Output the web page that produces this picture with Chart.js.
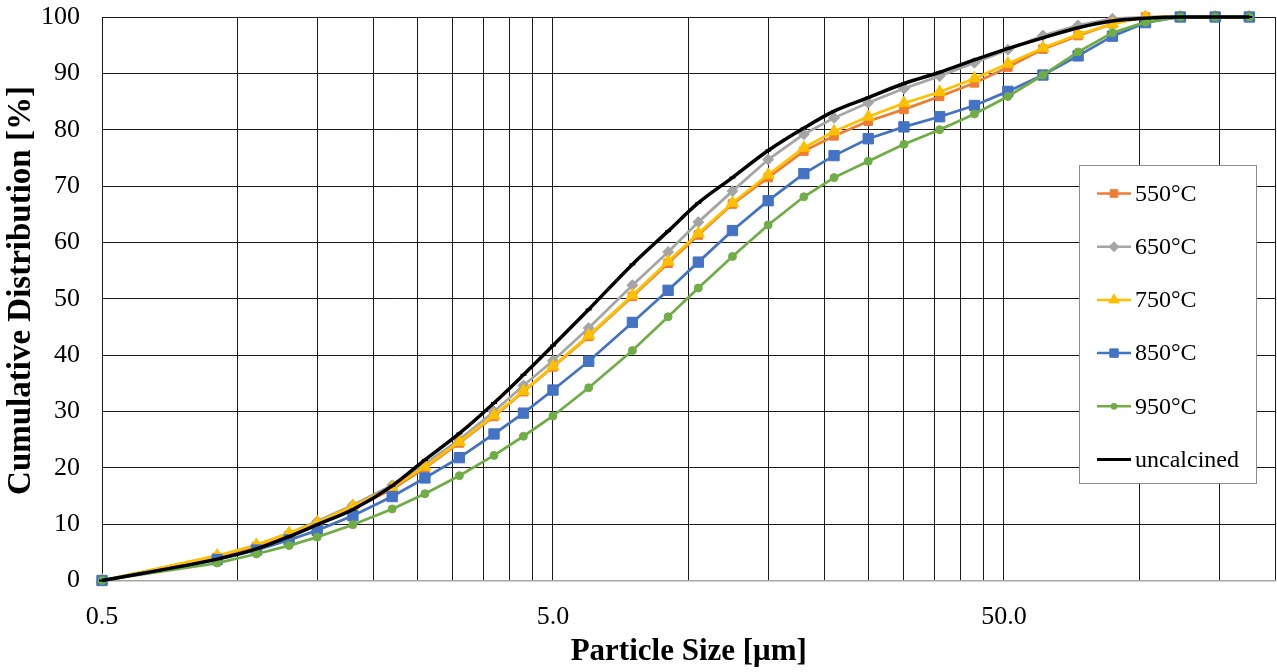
<!DOCTYPE html>
<html>
<head>
<meta charset="utf-8">
<script src="https://cdn.jsdelivr.net/npm/chart.js@4.4.1/dist/chart.umd.min.js"></script>
<style>
  html, body { margin: 0; padding: 0; background: #fff; overflow: hidden; }
  canvas { display: block; }
</style>
</head>
<body>
<canvas id="chart" width="1277" height="672"></canvas>
<script>
// particle size classes [µm]
const sizes = [0.5, 0.9, 1.1, 1.3, 1.5, 1.8, 2.2, 2.6, 3.1, 3.7, 4.3, 5.0, 6.0, 7.5, 9.0, 10.5,
  12.5, 15, 18, 21, 25, 30, 36, 43, 51, 61, 73, 87, 103, 123, 147, 175];

// cumulative distribution [%]
const q550 = [0, 4.1, 6.0, 8.0, 10.0, 12.8, 16.2, 20.0, 24.4, 29.1, 33.5, 37.9, 43.3, 50.4, 56.3, 61.3,
  66.8, 71.5, 76.2, 78.9, 81.5, 83.6, 85.9, 88.3, 91.1, 94.3, 96.7, 98.8, 100, 100, 100, 100];
const q650 = [0, 4.3, 6.3, 8.4, 10.5, 13.4, 16.9, 20.7, 25.0, 30.0, 34.6, 39.0, 44.8, 52.4, 58.3, 63.6,
  69.1, 74.7, 79.2, 82.1, 84.8, 87.3, 89.5, 91.9, 94.2, 96.7, 98.5, 99.7, 100, 100, 100, 100];
const q750 = [0, 4.4, 6.3, 8.4, 10.3, 13.2, 16.5, 20.2, 24.6, 29.3, 33.6, 38.0, 43.5, 50.6, 56.6, 61.6,
  67.0, 72.0, 76.8, 79.7, 82.3, 84.7, 86.7, 89.1, 91.7, 94.5, 96.9, 98.8, 100, 100, 100, 100];
const q850 = [0, 3.7, 5.4, 7.2, 8.9, 11.5, 14.9, 18.2, 21.8, 26.0, 29.7, 33.8, 38.9, 45.8, 51.5, 56.5,
  62.1, 67.4, 72.2, 75.4, 78.4, 80.5, 82.3, 84.3, 86.8, 89.7, 93.1, 96.6, 99.0, 100, 100, 100];
const q950 = [0, 3.1, 4.7, 6.2, 7.7, 9.9, 12.7, 15.4, 18.6, 22.2, 25.6, 29.2, 34.2, 40.8, 46.8, 51.9,
  57.5, 63.1, 68.1, 71.5, 74.4, 77.4, 80.0, 82.8, 85.9, 89.7, 93.8, 97.2, 99.1, 100, 100, 100];
const qRaw = [0, 3.8, 5.6, 7.8, 9.9, 12.6, 16.8, 21.4, 26.1, 31.5, 36.5, 41.7, 48.1, 56.1, 62.0, 67.0,
  71.5, 76.3, 80.3, 83.3, 85.7, 88.2, 90.2, 92.4, 94.4, 96.3, 98.1, 99.3, 99.8, 100, 100, 100];

const seriesNames = ['550°C', '650°C', '750°C', '850°C', '950°C', 'uncalcined'];

// x axis: grid lines and the few labelled ticks
const xGridValues = [0.5, 1, 1.5, 2, 2.5, 3, 3.5, 4, 4.5, 5, 10, 15, 20, 25, 30, 35, 40, 45, 50, 100, 150, 200];
const xLabelValues = [0.5, 5, 50];
const xLabelTexts = ['0.5', '5.0', '50.0'];

const FONT = "'Liberation Serif', 'Times New Roman', serif";

const toPoints = (ys) => sizes.map((x, i) => ({ x: x, y: ys[i] }));

function series(label, ys, color, style, radius, order) {
  return {
    label: label,
    data: toPoints(ys),
    borderColor: color,
    backgroundColor: color,
    pointBackgroundColor: color,
    pointBorderColor: color,
    pointStyle: style,
    pointRadius: radius,
    pointBorderWidth: 1,
    borderWidth: 2.75,
    tension: 0,
    clip: false,
    order: order
  };
}

const datasets = [
  series(seriesNames[0], q550, '#ED7D31', 'rect', 6, 5),
  series(seriesNames[1], q650, '#A5A5A5', 'rectRot', 5.5, 4),
  series(seriesNames[2], q750, '#FFC000', 'triangle', 7, 3),
  series(seriesNames[3], q850, '#4472C4', 'rect', 7.3, 2),
  series(seriesNames[4], q950, '#70AD47', 'circle', 4, 1),
  series(seriesNames[5], qRaw, '#000000', 'line', 3, 0)
];
// uncalcined: smoothed, thicker line
datasets[5].borderWidth = 3.5;
datasets[5].pointBorderWidth = 2;
datasets[5].cubicInterpolationMode = 'monotone';

function drawMarker(ctx, style, x, y, r, color) {
  ctx.fillStyle = color;
  ctx.strokeStyle = color;
  ctx.lineWidth = 1;
  ctx.beginPath();
  if (style === 'rect') {
    ctx.rect(x - r, y - r, 2 * r, 2 * r);
  } else if (style === 'rectRot') {
    ctx.moveTo(x - r, y); ctx.lineTo(x, y - r); ctx.lineTo(x + r, y); ctx.lineTo(x, y + r); ctx.closePath();
  } else if (style === 'triangle') {
    ctx.moveTo(x, y - r); ctx.lineTo(x + r * 0.866, y + r * 0.5); ctx.lineTo(x - r * 0.866, y + r * 0.5); ctx.closePath();
  } else if (style === 'circle') {
    ctx.arc(x, y, r, 0, Math.PI * 2);
  } else {
    return;
  }
  ctx.fill();
  ctx.stroke();
}

// legend box sitting inside the plot, like the spreadsheet original
const boxLegend = {
  id: 'boxLegend',
  afterDraw(chart) {
    const ctx = chart.ctx;
    const left = 1079.5, top = 165.5, w = 177, h = 318;
    const legendSizes = [3.8, 5, 6, 4.2, 3, 0];
    ctx.save();
    ctx.fillStyle = '#fff';
    ctx.fillRect(left, top, w, h);
    ctx.strokeStyle = '#8c8c8c';
    ctx.lineWidth = 1;
    ctx.strokeRect(left, top, w, h);
    chart.data.datasets.forEach((ds, i) => {
      const y = 193.5 + i * 53.2;
      ctx.strokeStyle = ds.borderColor;
      ctx.lineWidth = i === 5 ? 3 : 2.5;
      ctx.beginPath();
      ctx.moveTo(1097, y);
      ctx.lineTo(1131, y);
      ctx.stroke();
      drawMarker(ctx, ds.pointStyle, 1114, y, legendSizes[i], ds.borderColor);
      ctx.fillStyle = '#000';
      ctx.font = '24px ' + FONT;
      ctx.textAlign = 'left';
      ctx.textBaseline = 'middle';
      ctx.fillText(ds.label, 1135, y + 1);
    });
    ctx.restore();
  }
};

new Chart(document.getElementById('chart'), {
  type: 'line',
  data: { datasets: datasets },
  plugins: [boxLegend],
  options: {
    responsive: false,
    animation: false,
    devicePixelRatio: 1,
    layout: { autoPadding: false, padding: { top: 17, right: 1.5, left: 0, bottom: 0 } },
    plugins: { legend: { display: false }, tooltip: { enabled: false } },
    scales: {
      x: {
        type: 'logarithmic',
        min: 0.5,
        max: 200,
        afterBuildTicks: (s) => { s.ticks = xGridValues.map((v) => ({ value: v })); },
        afterFit: (s) => { s.height = 91.5; s.paddingLeft = 0; s.paddingRight = 0; },
        ticks: {
          autoSkip: false,
          maxRotation: 0,
          minRotation: 0,
          padding: 21,
          color: '#000',
          font: { family: FONT, size: 26 },
          callback: (v) => {
            const k = xLabelValues.indexOf(v);
            return k < 0 ? '' : xLabelTexts[k];
          }
        },
        grid: { color: '#1a1a1a', lineWidth: 1, drawTicks: false },
        border: { color: '#a6a6a6', width: 1.5 },
        title: {
          display: true,
          text: 'Particle Size [μm]',
          color: '#000',
          font: { family: FONT, size: 31, weight: 'bold' },
          padding: { top: 0, bottom: 1 }
        }
      },
      y: {
        min: 0,
        max: 100,
        afterFit: (s) => { s.width = 102; s.paddingTop = 0; s.paddingBottom = 0; },
        ticks: {
          stepSize: 10,
          padding: 22,
          color: '#000',
          font: { family: FONT, size: 26 }
        },
        grid: {
          color: (c) => (c.tick && c.tick.value === 0 ? '#a6a6a6' : '#1a1a1a'),
          lineWidth: 1,
          drawTicks: false
        },
        border: { color: '#1a1a1a' },
        title: {
          display: true,
          // leading spaces nudge the rotated title up, as in the original
          text: '\u00a0\u00a0Cumulative Distribution [%]',
          color: '#000',
          font: { family: FONT, size: 33, weight: 'bold' },
          padding: { top: 2, bottom: 0 }
        }
      }
    }
  }
});
</script>
</body>
</html>
